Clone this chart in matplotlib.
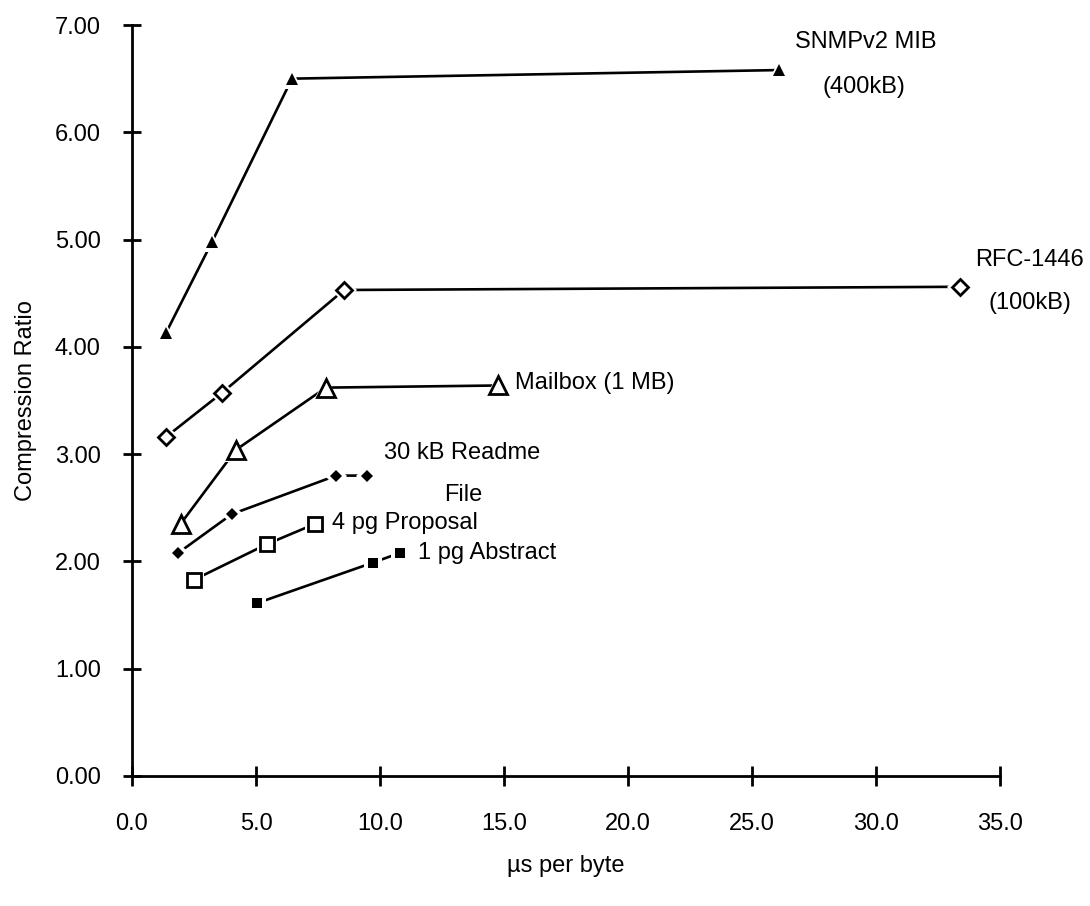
import matplotlib
matplotlib.use("Agg")
import matplotlib.pyplot as plt

plt.rcParams['font.family'] = ['Liberation Sans', 'DejaVu Sans']

# ---- data ----
snmp_x = [1.37, 3.23, 6.45, 26.1]
snmp_y = [4.13, 4.98, 6.50, 6.58]

rfc_x = [1.37, 3.62, 8.55, 33.4]
rfc_y = [3.16, 3.57, 4.53, 4.56]

mail_x = [1.96, 4.19, 7.82, 14.77]
mail_y = [2.35, 3.04, 3.62, 3.64]

readme_x = [1.87, 4.02, 8.23, 9.49]
readme_y = [2.08, 2.44, 2.80, 2.80]

prop_x = [2.51, 5.43, 7.38]
prop_y = [1.83, 2.16, 2.35]

abs_x = [5.03, 9.73, 10.81]
abs_y = [1.61, 1.99, 2.08]

x_ticks = [0, 5, 10, 15, 20, 25, 30, 35]
x_ticklabels = ["0.0", "5.0", "10.0", "15.0", "20.0", "25.0", "30.0", "35.0"]
y_ticks = [0, 1, 2, 3, 4, 5, 6, 7]
y_ticklabels = ["0.00", "1.00", "2.00", "3.00", "4.00", "5.00", "6.00", "7.00"]

FS = 17

fig = plt.figure(figsize=(10.9, 9.06), dpi=100)
ax = fig.add_axes([132/1090, 130/906, 868/1090, 751/906])

def series(x, y, marker, ms, filled, mew=2.0):
    ax.plot(x, y, color='black', lw=1.9, zorder=2, solid_capstyle='butt')
    ax.plot(x, y, linestyle='none', marker=marker, ms=ms + 5, mfc='white',
            mec='white', mew=0, zorder=3)
    ax.plot(x, y, linestyle='none', marker=marker, ms=ms,
            mfc='black' if filled else 'white', mec='black',
            mew=0 if filled else mew, zorder=4)

series(snmp_x, snmp_y, '^', 9, True)
series(rfc_x, rfc_y, 'D', 8, False)
series(mail_x, mail_y, '^', 12.5, False)
series(readme_x, readme_y, 'D', 6.3, True)
series(prop_x, prop_y, 's', 9.5, False)
series(abs_x, abs_y, 's', 7.8, True)

# labels
ax.text(29.6, 6.84, "SNMPv2 MIB", ha='center', va='center', fontsize=FS)
ax.text(29.5, 6.42, "(400kB)", ha='center', va='center', fontsize=FS)
ax.text(36.2, 4.81, "RFC-1446", ha='center', va='center', fontsize=FS, clip_on=False)
ax.text(36.2, 4.41, "(100kB)", ha='center', va='center', fontsize=FS, clip_on=False)
ax.text(15.44, 3.66, "Mailbox (1 MB)", ha='left', va='center', fontsize=FS)
ax.text(13.3, 3.01, "30 kB Readme", ha='center', va='center', fontsize=FS)
ax.text(13.35, 2.62, "File", ha='center', va='center', fontsize=FS)
ax.text(8.06, 2.36, "4 pg Proposal", ha='left', va='center', fontsize=FS)
ax.text(11.53, 2.08, "1 pg Abstract", ha='left', va='center', fontsize=FS)

ax.set_xlim(0, 35)
ax.set_ylim(0, 7)
ax.set_xticks(x_ticks)
ax.set_xticklabels(x_ticklabels)
ax.set_yticks(y_ticks)
ax.set_yticklabels(y_ticklabels)

for s in ['top', 'right']:
    ax.spines[s].set_visible(False)
for s in ['left', 'bottom']:
    ax.spines[s].set_linewidth(2)

ax.tick_params(axis='x', direction='inout', length=14, width=2, pad=20, labelsize=FS)
ax.tick_params(axis='y', direction='inout', length=13, width=2, pad=16, labelsize=FS)

ax.set_xlabel("µs per byte", fontsize=FS)
ax.set_ylabel("Compression Ratio", fontsize=FS)
ax.xaxis.set_label_coords(0.5, -0.105)
ax.yaxis.set_label_coords(-0.11, 0.5)

fig.savefig("out.png", dpi=100)
